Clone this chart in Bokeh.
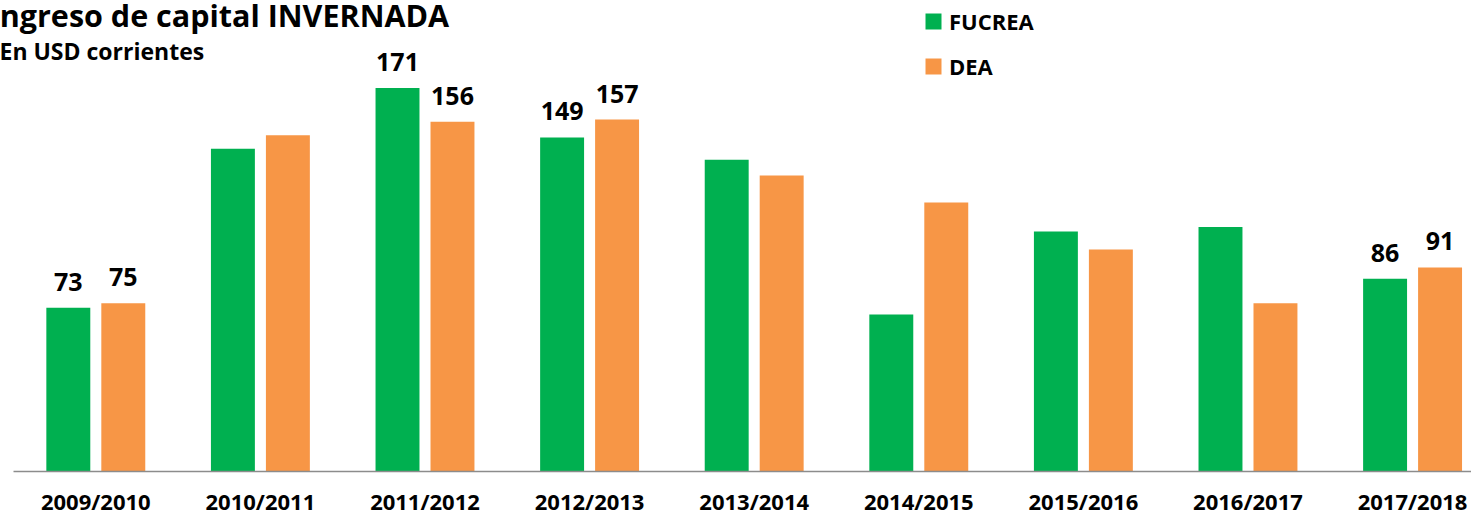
from bokeh.plotting import figure
from bokeh.models import (Range1d, ColumnDataSource, Label,
                          Legend, LegendItem)
from bokeh.core.properties import value
from bokeh.embed import file_html
from bokeh.resources import INLINE

categories = ["2009/2010", "2010/2011", "2011/2012", "2012/2013", "2013/2014",
              "2014/2015", "2015/2016", "2016/2017", "2017/2018"]
fucrea = [73, 144, 171, 149, 139, 70, 107, 109, 86]
dea = [75, 150, 156, 157, 132, 120, 99, 75, 91]
fucrea_labels = ["73", "", "171", "149", "", "", "", "", "86"]
dea_labels = ["75", "", "156", "157", "", "", "", "", "91"]

GREEN = "#00B050"
ORANGE = "#F79646"
FONT = "Open Sans"

X_START, X_END = -0.079, 8.858
Y_START, Y_END = -19.63, 210.08

centers = [i + 0.5 for i in range(len(categories))]
off = 0.167
bw = 0.267

src = ColumnDataSource(dict(
    xc=centers,
    xf=[c - off for c in centers],
    xd=[c + off for c in centers],
    fucrea=fucrea, dea=dea,
    fl=fucrea_labels, dl=dea_labels,
))

p = figure(width=1471, height=515, output_backend="svg", toolbar_location=None,
           x_range=Range1d(X_START, X_END), y_range=Range1d(Y_START, Y_END),
           min_border_left=0, min_border_right=0, min_border_top=0,
           min_border_bottom=0)
p.xaxis.visible = False
p.yaxis.visible = False
p.grid.visible = False
p.outline_line_color = None

rf = p.vbar(x="xf", top="fucrea", width=bw, source=src, fill_color=GREEN,
            line_color=None)
rd = p.vbar(x="xd", top="dea", width=bw, source=src, fill_color=ORANGE,
            line_color=None)

# category axis line
p.segment(x0=[0], y0=[0], x1=[X_END], y1=[0], line_color="#8c8c8c",
          line_width=1.5)

for c, cat in zip(centers, categories):
    p.add_layout(Label(x=c, y=-13.1, text=cat, text_align="center",
                       text_baseline="alphabetic", text_font=FONT,
                       text_font_style="bold", text_font_size="22px",
                       text_color="#000000"))

p.text(x="xf", y="fucrea", text="fl", source=src, text_align="center",
       text_baseline="alphabetic", y_offset=-26, text_font=value(FONT),
       text_font_style="bold", text_font_size="25px", text_color="#000000")
p.text(x="xd", y="dea", text="dl", source=src, text_align="center",
       text_baseline="alphabetic", y_offset=-26, text_font=value(FONT),
       text_font_style="bold", text_font_size="25px", text_color="#000000")

p.add_layout(Label(x=-0.145, y=203.5, text="Ingreso de capital INVERNADA",
                   text_baseline="alphabetic", text_font=FONT,
                   text_font_style="bold", text_font_size="30.5px",
                   text_color="#000000"))
p.add_layout(Label(x=-0.085, y=187.5, text="En USD corrientes",
                   text_baseline="alphabetic", text_font=FONT,
                   text_font_style="bold", text_font_size="23px",
                   text_color="#000000"))

legend = Legend(items=[LegendItem(label="FUCREA", renderers=[rf]),
                       LegendItem(label="DEA", renderers=[rd])],
                location=(923, 434), glyph_width=20, glyph_height=20,
                label_standoff=6, spacing=15, padding=0, margin=0,
                border_line_color=None, background_fill_alpha=0,
                label_text_font=FONT, label_text_font_style="bold",
                label_text_font_size="22px", label_text_color="#000000")
p.add_layout(legend)

open("out.html", "w").write(file_html(p, INLINE))
